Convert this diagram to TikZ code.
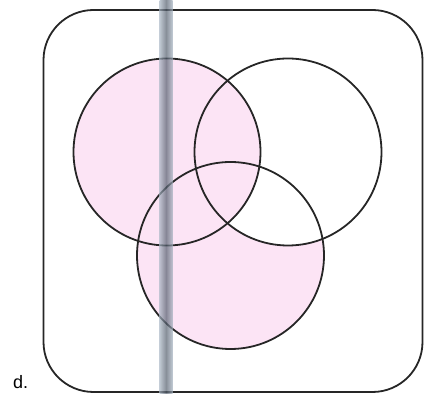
\documentclass[tikz,border=0pt]{standalone}
\usepackage{fontspec}
\setmainfont{Liberation Sans}
\definecolor{setpink}{RGB}{252,228,245}
\definecolor{bandmid}{RGB}{85,95,110}
\definecolor{bandedge}{RGB}{165,178,192}
\tikzset{
  setline/.style={draw=black!85, line width=1.8pt},
  setcircle/.style={circle, setline, minimum size=187pt, inner sep=0pt},
}
\begin{document}
\begin{tikzpicture}[x=1pt,y=1pt]
\useasboundingbox (0,0) rectangle (424,394);
% shading: A union (C minus B)
\fill[setpink] (167,242) circle (93.5);
\begin{scope}[even odd rule]
  \clip (0,0) rectangle (424,394) (288,242) circle (93.5);
  \fill[setpink] (230.5,138.5) circle (93.5);
\end{scope}
% universe
\node[setline, rounded corners=50pt, minimum width=379pt, minimum height=382pt, inner sep=0pt] (U) at (233,193) {};
% sets
\node[setcircle] (A) at (167,242) {};
\node[setcircle] (B) at (288,242) {};
\node[setcircle] (C) at (230.5,138.5) {};
% label
\node[anchor=base west, inner sep=0pt, font=\fontsize{18}{18}\selectfont] (lab) at (13,5) {d.};
% scanner band
\shade[left color=bandedge, right color=bandedge, middle color=bandmid, opacity=0.7] (159.5,0) rectangle (172.5,394);
\end{tikzpicture}
\end{document}
